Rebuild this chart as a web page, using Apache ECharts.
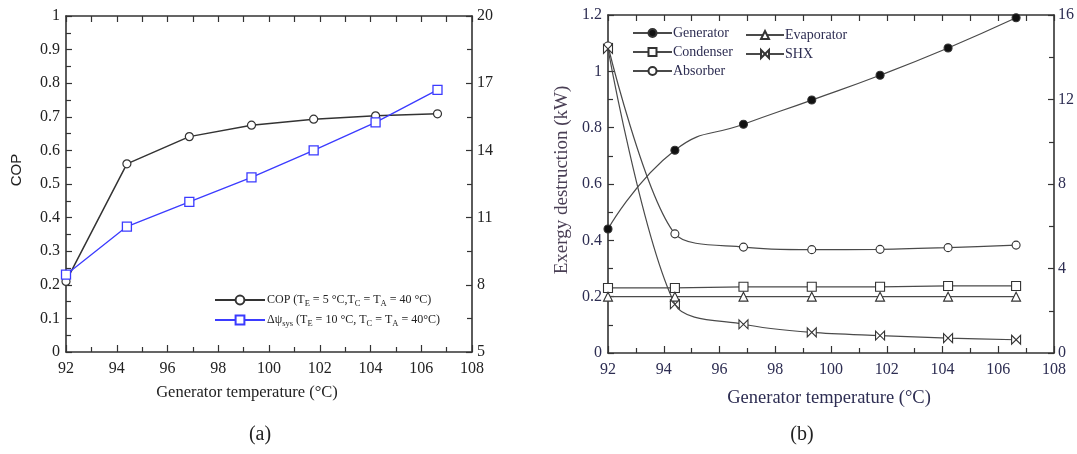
<!DOCTYPE html>
<html>
<head>
<meta charset="utf-8">
<script src="https://cdn.jsdelivr.net/npm/echarts@6/dist/echarts.min.js"></script>
<style>html,body{margin:0;padding:0;background:#fff;}#c{width:1077px;height:454px;}</style>
</head>
<body>
<div id="c"></div>
<script>
// ---- data ----
const genTemps = [92, 94.4, 96.86, 99.31, 101.76, 104.2, 106.64];
// panel (a)
const copValues = [0.21, 0.56, 0.641, 0.675, 0.693, 0.703, 0.709];
const psiValues = [8.45, 10.6, 11.7, 12.8, 14.0, 15.25, 16.7];
// panel (b)
const generatorValues = [0.44, 0.72, 0.812, 0.898, 0.986, 1.083, 1.19];
const condenserValues = [0.231, 0.231, 0.235, 0.235, 0.235, 0.238, 0.238];
const absorberValues = [1.09, 0.423, 0.376, 0.367, 0.368, 0.374, 0.383];
const evaporatorValues = [0.2, 0.2, 0.2, 0.2, 0.2, 0.2, 0.2];
const shxValues = [1.08, 0.173, 0.102, 0.073, 0.062, 0.053, 0.047];

const pairs = (ys) => genTemps.map((x, i) => [x, ys[i]]);

const SERIF = "'Liberation Serif','Times New Roman',serif";
const AX = '#333';
const TXT_A = '#222';
const TXT_B = '#2d2d52';

function xAx(grid, pos, labels, color) {
  return {
    type: 'value', gridIndex: grid, position: pos, min: 92, max: 108,
    interval: labels ? 2 : 1,
    axisLine: { show: true, onZero: false, lineStyle: { color: AX, width: 1.6 } },
    axisTick: { show: true, inside: true, length: labels ? 7 : 6, lineStyle: { color: AX, width: 1.2 } },
    minorTick: { show: labels, splitNumber: 2, length: 5, lineStyle: { color: AX, width: 1.2 } },
    axisLabel: { show: labels, margin: 9, fontFamily: SERIF, fontSize: 16, color: color },
    splitLine: { show: false }, minorSplitLine: { show: false }
  };
}
function yAx(grid, pos, min, max, interval, color, margin) {
  return {
    type: 'value', gridIndex: grid, position: pos, min: min, max: max, interval: interval,
    axisLine: { show: true, onZero: false, lineStyle: { color: AX, width: 1.6 } },
    axisTick: { show: true, inside: true, length: 6, lineStyle: { color: AX, width: 1.2 } },
    minorTick: { show: true, splitNumber: 2, length: 5, lineStyle: { color: AX, width: 1.2 } },
    axisLabel: { show: true, margin: margin, fontFamily: SERIF, fontSize: 16, color: color },
    splitLine: { show: false }, minorSplitLine: { show: false }
  };
}

const bowtie = 'path://M0,0 L10,10 L10,0 L0,10 Z';

function bSeries(name, ys, symbol, size, filled, smooth) {
  return {
    name: name, type: 'line', xAxisIndex: 2, yAxisIndex: 2, data: pairs(ys),
    smooth: smooth, symbol: symbol, symbolSize: size, showSymbol: true,
    lineStyle: { color: '#4a4a4a', width: 1.2 },
    itemStyle: { color: filled ? '#111' : '#fff', borderColor: '#333', borderWidth: 1.1 },
    emphasis: { disabled: true }, z: 3
  };
}

const richSub = {
  sub: { fontSize: 8.5, lineHeight: 9, padding: [7, 0, 0, 0], fontFamily: SERIF, color: TXT_A }
};

const option = {
  animation: false,
  backgroundColor: '#fff',
  grid: [
    { left: 66, top: 16, width: 406, height: 336 },
    { left: 608, top: 15, width: 448, height: 338 }
  ],
  xAxis: [
    xAx(0, 'bottom', true, TXT_A),
    xAx(0, 'top', false, TXT_A),
    xAx(1, 'bottom', true, TXT_B),
    xAx(1, 'top', false, TXT_B)
  ],
  yAxis: [
    yAx(0, 'left', 0, 1, 0.1, TXT_A, 6),
    yAx(0, 'right', 5, 20, 3, TXT_A, 5),
    yAx(1, 'left', 0, 1.2, 0.2, TXT_B, 6),
    yAx(1, 'right', 0, 16, 4, TXT_B, 4)
  ],
  legend: [
    {
      data: ['COP', 'psi'], orient: 'vertical', left: 209, top: 287,
      itemWidth: 50, itemHeight: 11, itemGap: 4,
      formatter: function (n) {
        if (n === 'COP') return 'COP (T{sub|E} = 5 °C,T{sub|C} = T{sub|A} = 40 °C)';
        return 'Δψ{sub|sys} (T{sub|E} = 10 °C, T{sub|C} = T{sub|A} = 40°C)';
      },
      textStyle: { fontFamily: SERIF, fontSize: 12, color: TXT_A, padding: [0, 0, 0, -3], rich: richSub },
      selectedMode: false
    },
    {
      data: ['Generator', 'Condenser', 'Absorber'], orient: 'vertical', left: 627, top: 21,
      itemWidth: 39, itemHeight: 10, itemGap: 5,
      textStyle: { fontFamily: SERIF, fontSize: 14, color: TXT_B, padding: [0, 0, 0, -4] },
      selectedMode: false
    },
    {
      data: ['Evaporator', 'SHX'], orient: 'vertical', left: 740, top: 23,
      itemWidth: 38, itemHeight: 10, itemGap: 5,
      textStyle: { fontFamily: SERIF, fontSize: 14, color: TXT_B, padding: [0, 0, 0, -4] },
      selectedMode: false
    }
  ],
  series: [
    {
      name: 'COP', type: 'line', xAxisIndex: 0, yAxisIndex: 0, data: pairs(copValues),
      symbol: 'circle', symbolSize: 8,
      lineStyle: { color: '#333', width: 1.5 },
      itemStyle: { color: '#fff', borderColor: '#333', borderWidth: 1.2 },
      emphasis: { disabled: true }, z: 2
    },
    {
      name: 'psi', type: 'line', xAxisIndex: 0, yAxisIndex: 1, data: pairs(psiValues),
      symbol: 'rect', symbolSize: 9,
      lineStyle: { color: '#3b3bff', width: 1.3 },
      itemStyle: { color: '#fff', borderColor: '#3b3bff', borderWidth: 1.3 },
      emphasis: { disabled: true }, z: 3
    },
    bSeries('Generator', generatorValues, 'circle', 8, true, 0.5),
    bSeries('Condenser', condenserValues, 'rect', 9, false, false),
    bSeries('Absorber', absorberValues, 'circle', 8, false, 0.3),
    bSeries('Evaporator', evaporatorValues, 'triangle', 9, false, false),
    bSeries('SHX', shxValues, bowtie, 9, false, 0.3)
  ],
  graphic: [
    { type: 'text', x: 247, y: 393, style: { text: 'Generator temperature (°C)', fontFamily: SERIF, fontSize: 16.5, fill: TXT_A, align: 'center', verticalAlign: 'middle' } },
    { type: 'text', x: 17, y: 170, rotation: Math.PI / 2, style: { text: 'COP', fontFamily: "'Liberation Sans',Arial,sans-serif", fontSize: 15, fill: TXT_A, align: 'center', verticalAlign: 'middle' } },
    { type: 'text', x: 260, y: 435, style: { text: '(a)', fontFamily: SERIF, fontSize: 20, fill: TXT_A, align: 'center', verticalAlign: 'middle' } },
    { type: 'text', x: 829, y: 398, style: { text: 'Generator temperature (°C)', fontFamily: SERIF, fontSize: 18.5, fill: TXT_B, align: 'center', verticalAlign: 'middle' } },
    { type: 'text', x: 562, y: 180, rotation: Math.PI / 2, style: { text: 'Exergy destruction (kW)', fontFamily: SERIF, fontSize: 19, fill: '#4a3f55', align: 'center', verticalAlign: 'middle' } },
    { type: 'text', x: 802, y: 435, style: { text: '(b)', fontFamily: SERIF, fontSize: 20, fill: TXT_A, align: 'center', verticalAlign: 'middle' } }
  ]
};

const chart = echarts.init(document.getElementById('c'), null, { renderer: 'canvas' });
chart.setOption(option);
</script>
</body>
</html>
